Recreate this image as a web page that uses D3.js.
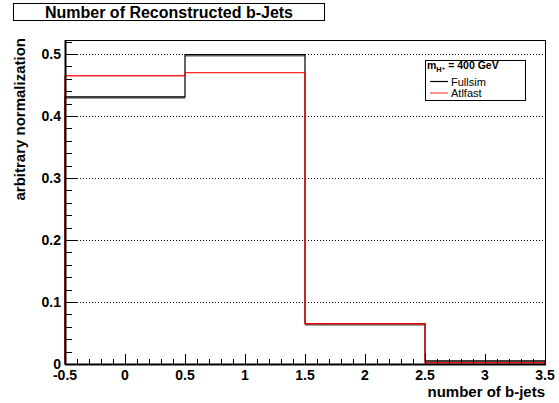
<!DOCTYPE html>
<html><head><meta charset="utf-8">
<script src="https://cdn.jsdelivr.net/npm/d3@7"></script>
<style>body{margin:0;background:#fff}svg{display:block}text{font-family:"Liberation Sans",Arial,sans-serif;font-weight:bold}</style>
</head><body><svg id="c" width="559" height="403"></svg>
<script>
const binEdges = [-0.5, 0.5, 1.5, 2.5, 3.5];
const fullsim = [0.431, 0.499, 0.065, 0.005];
const fullsimErr = [0.003, 0.003, 0.003, 0.004];
const atlfast = [0.465, 0.470, 0.065, 0.002];
const yTicks = [0, 0.1, 0.2, 0.3, 0.4, 0.5];
const xTicks = [-0.5, 0, 0.5, 1, 1.5, 2, 2.5, 3, 3.5];
const title = "Number of Reconstructed b-Jets";
const legendTitle = "400 GeV";

const svg = d3.select("#c");
const L = 65, R = 545, T = 40, B = 364;
const x = d3.scaleLinear().domain([-0.5, 3.5]).range([L, R]);
const y = d3.scaleLinear().domain([0, 0.5226]).range([B, T]);

// gridlines
svg.append("g").selectAll("line").data(yTicks.filter(d => d > 0)).join("line")
  .attr("x1", L).attr("x2", R).attr("y1", d => Math.round(y(d)) + 0.5).attr("y2", d => Math.round(y(d)) + 0.5)
  .attr("stroke", "#000").attr("stroke-width", 1).attr("stroke-dasharray", "1,2");

// error band (gray) for fullsim
const bins = fullsim.map((v, i) => ({x0: binEdges[i], x1: binEdges[i + 1], v, e: fullsimErr[i], a: atlfast[i]}));
svg.append("g").selectAll("rect").data(bins).join("rect")
  .attr("x", d => x(d.x0)).attr("width", d => x(d.x1) - x(d.x0))
  .attr("y", d => y(d.v)).attr("height", d => Math.max(2, y(d.v - d.e) - y(d.v)))
  .attr("fill", "#808080");

function stepPath(vals) {
  const p = d3.path();
  p.moveTo(x(binEdges[0]), y(0));
  vals.forEach((v, i) => { p.lineTo(x(binEdges[i]), y(v)); p.lineTo(x(binEdges[i + 1]), y(v)); });
  p.lineTo(x(binEdges[binEdges.length - 1]), y(0));
  return p.toString();
}
svg.append("path").attr("d", stepPath(fullsim)).attr("fill", "none").attr("stroke", "#000").attr("stroke-width", 1.2);
svg.append("path").attr("d", stepPath(atlfast)).attr("fill", "none").attr("stroke", "#ff0000").attr("stroke-width", 1.4).attr("stroke-opacity", 0.85);

// frame
svg.append("rect").attr("x", L + 0.5).attr("y", T + 0.5).attr("width", R - L).attr("height", B - T)
  .attr("fill", "none").attr("stroke", "#000").attr("stroke-width", 1);
svg.append("line").attr("x1", L).attr("x2", R + 1).attr("y1", B + 0.5).attr("y2", B + 0.5).attr("stroke", "#000").attr("stroke-width", 2);
svg.append("line").attr("x1", L + 0.5).attr("x2", L + 0.5).attr("y1", T).attr("y2", B + 1).attr("stroke", "#000").attr("stroke-width", 2);

// y axis ticks
const yMinor = d3.range(0, 0.5226, 0.02);
svg.append("g").selectAll("line").data(yMinor).join("line")
  .attr("x1", L).attr("x2", (d, i) => L + (i % 5 === 0 ? 13 : 7))
  .attr("y1", d => Math.round(y(d)) + 0.5).attr("y2", d => Math.round(y(d)) + 0.5)
  .attr("stroke", "#000");
svg.append("g").selectAll("text").data(yTicks).join("text")
  .attr("x", 61).attr("y", d => y(d) + 5).attr("text-anchor", "end").attr("font-size", 14)
  .text(d => d === 0 ? "0" : d3.format(".1f")(d));

// x axis ticks
const xMinor = d3.range(-0.5, 3.5001, 0.1);
svg.append("g").selectAll("line").data(xMinor).join("line")
  .attr("x1", d => Math.round(x(d)) + 0.5).attr("x2", d => Math.round(x(d)) + 0.5)
  .attr("y1", B).attr("y2", (d, i) => B - (i % 5 === 0 ? 10 : 5))
  .attr("stroke", "#000");
svg.append("g").selectAll("text").data(xTicks).join("text")
  .attr("x", d => x(d)).attr("y", 380).attr("text-anchor", "middle").attr("font-size", 14)
  .text(d => String(d));

// axis titles
svg.append("text").attr("x", R).attr("y", 397).attr("text-anchor", "end").attr("font-size", 15).text("number of b-jets");
svg.append("text").attr("transform", `translate(25,${T - 2}) rotate(-90)`).attr("text-anchor", "end").attr("font-size", 15).text("arbitrary normalization");

// title box
svg.append("rect").attr("x", 13.5).attr("y", 3.5).attr("width", 311).attr("height", 17).attr("fill", "#fff").attr("stroke", "#000").attr("stroke-width", 1);
svg.append("text").attr("x", 169).attr("y", 18).attr("text-anchor", "middle").attr("font-size", 16).text(title);

// legend
const lg = svg.append("g");
lg.append("rect").attr("x", 425.5).attr("y", 60.5).attr("width", 100).attr("height", 40).attr("fill", "#fff").attr("stroke", "#000").attr("stroke-width", 1);
const lt = lg.append("text").attr("x", 427).attr("y", 69).attr("font-size", 10.5);
lt.append("tspan").text("m");
lt.append("tspan").attr("font-size", 7.5).attr("dy", 3).text("H");
lt.append("tspan").attr("font-size", 6).attr("dy", -2).text("+");
lt.append("tspan").attr("dy", -1).text(" = " + legendTitle);
const entries = [{name: "Fullsim", color: "#000"}, {name: "Atlfast", color: "#ff5050"}];
entries.forEach((e, i) => {
  const yy = 81 + i * 11.5;
  lg.append("line").attr("x1", 430).attr("x2", 448).attr("y1", yy + 0.5).attr("y2", yy + 0.5).attr("stroke", e.color).attr("stroke-width", 1.2);
  lg.append("text").attr("x", 451).attr("y", yy + 4.5).attr("font-size", 11).style("font-weight", "normal").text(e.name);
});
</script></body></html>
